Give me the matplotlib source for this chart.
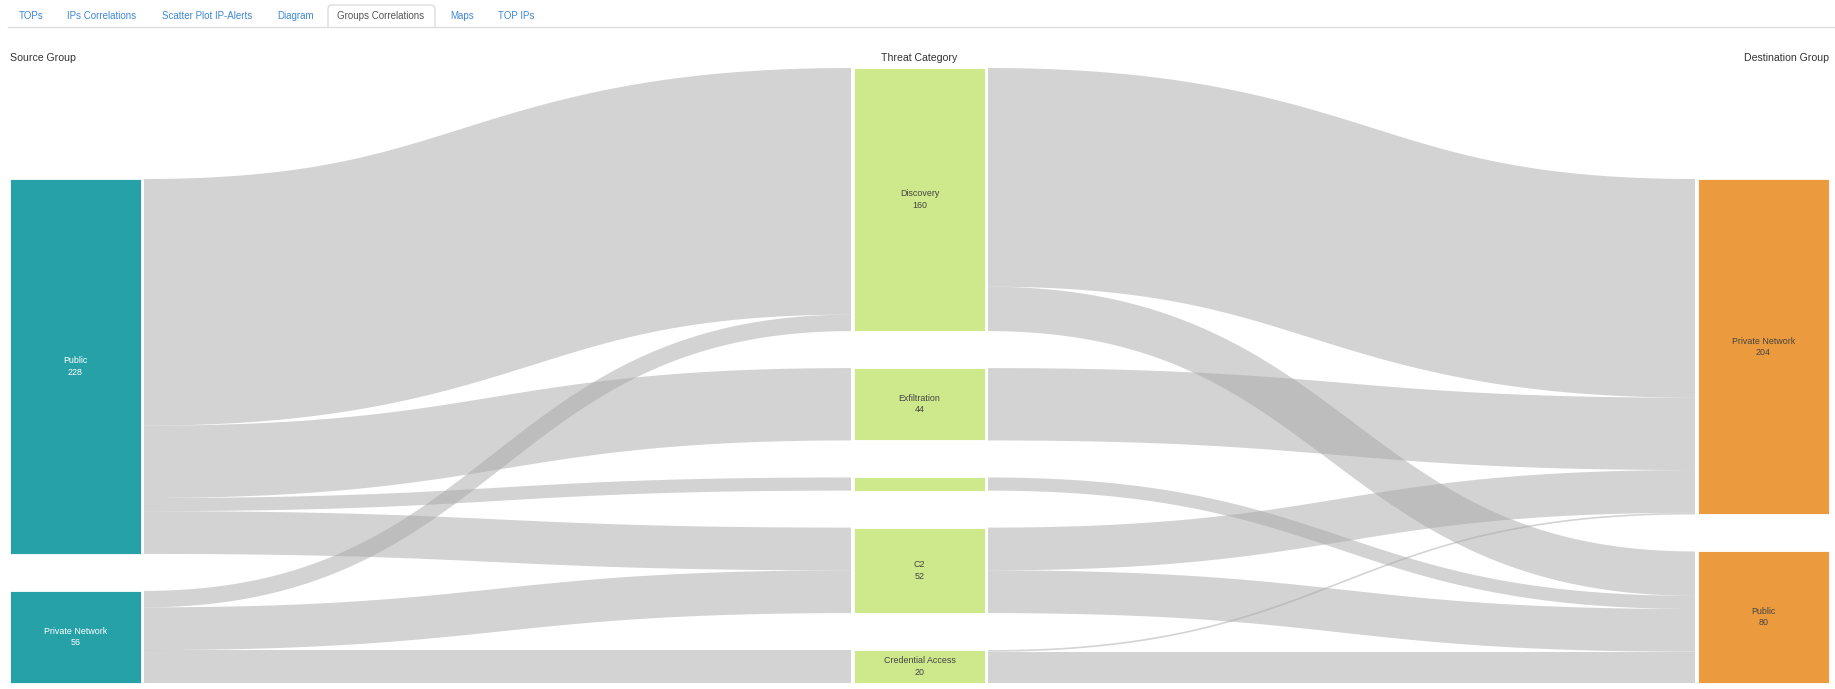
import numpy as np
import matplotlib.pyplot as plt
from matplotlib.patches import Rectangle, Polygon, FancyBboxPatch

plt.rcParams['font.family'] = ['Liberation Sans', 'DejaVu Sans']

# ---- data ----
source_names = ["Public", "Private Network"]
threat_names = ["Discovery", "Exfiltration", "Lateral Movement", "C2", "Credential Access"]
dest_names = ["Private Network", "Public"]

# source group -> threat category
left_src = [0, 0, 0, 0, 1, 1, 1]
left_tgt = [0, 1, 2, 3, 0, 3, 4]
left_val = [150, 44, 8, 26, 10, 26, 20]

# threat category -> destination group
right_src = [0, 0, 1, 2, 3, 3, 4, 4]
right_tgt = [0, 1, 0, 1, 0, 1, 0, 1]
right_val = [133, 27, 44, 8, 26, 26, 1, 19]

tabs = ["TOPs", "IPs Correlations", "Scatter Plot IP-Alerts", "Diagram",
        "Groups Correlations", "Maps", "TOP IPs"]
active_tab = "Groups Correlations"
column_titles = ["Source Group", "Threat Category", "Destination Group"]

# ---- layout (pixels) ----
W, H = 1835, 689
col_x = [10, 854, 1698]
node_w = 131
link_pad = 3
top, bottom = 68, 683
gap = 37
colors = ["#26a1a8", "#cde98b", "#ec9a3e"]
label_colors = ["white", "#444444", "#444444"]

fig = plt.figure(figsize=(W / 100, H / 100), dpi=100)
ax = fig.add_axes([0, 0, 1, 1])
ax.set_xlim(0, W)
ax.set_ylim(H, 0)
ax.axis("off")

# node values
src_vals = np.zeros(len(source_names))
thr_in = np.zeros(len(threat_names))
thr_out = np.zeros(len(threat_names))
dst_vals = np.zeros(len(dest_names))
for s, t, v in zip(left_src, left_tgt, left_val):
    src_vals[s] += v
    thr_in[t] += v
for s, t, v in zip(right_src, right_tgt, right_val):
    thr_out[s] += v
    dst_vals[t] += v
thr_vals = np.maximum(thr_in, thr_out)
columns = [src_vals, thr_vals, dst_vals]
names = [source_names, threat_names, dest_names]

ky = min((bottom - top - gap * (len(c) - 1)) / c.sum() for c in columns)

node_y = []
for vals in columns:
    h = vals * ky
    y = bottom - (h.sum() + gap * (len(vals) - 1))
    ys = []
    for hh in h:
        ys.append(y)
        y += hh + gap
    node_y.append(np.array(ys))


def band(x0, y0, x1, y1, w, n=120):
    # thick stroke along a horizontal cubic bezier (like d3 sankeyLinkHorizontal)
    t = np.linspace(0, 1, n)[:, None]
    xm = (x0 + x1) / 2
    P0, P1, P2, P3 = (np.array(p, float) for p in [(x0, y0), (xm, y0), (xm, y1), (x1, y1)])
    B = (1 - t) ** 3 * P0 + 3 * (1 - t) ** 2 * t * P1 + 3 * (1 - t) * t ** 2 * P2 + t ** 3 * P3
    D = 3 * (1 - t) ** 2 * (P1 - P0) + 6 * (1 - t) * t * (P2 - P1) + 3 * t ** 2 * (P3 - P2)
    D = D / np.linalg.norm(D, axis=1, keepdims=True)
    N = np.column_stack([-D[:, 1], D[:, 0]])
    return np.vstack([B + N * w / 2, (B - N * w / 2)[::-1]])


def draw_links(ci, srcs, tgts, vals):
    sy = node_y[ci].copy()
    ty = node_y[ci + 1].copy()
    # source side ordered by target position, target side by source position
    order_s = sorted(range(len(vals)), key=lambda i: (srcs[i], node_y[ci + 1][tgts[i]]))
    order_t = sorted(range(len(vals)), key=lambda i: (tgts[i], node_y[ci][srcs[i]]))
    y_start, y_end = {}, {}
    for i in order_s:
        y_start[i] = sy[srcs[i]]
        sy[srcs[i]] += vals[i] * ky
    for i in order_t:
        y_end[i] = ty[tgts[i]]
        ty[tgts[i]] += vals[i] * ky
    x0 = col_x[ci] + node_w + link_pad
    x1 = col_x[ci + 1] - link_pad
    for i in range(len(vals)):
        w = vals[i] * ky
        pts = band(x0, y_start[i] + w / 2, x1, y_end[i] + w / 2, w)
        ax.add_patch(Polygon(pts, closed=True, facecolor=(0.66, 0.66, 0.66),
                             alpha=0.5, edgecolor="none", zorder=1))


draw_links(0, left_src, left_tgt, left_val)
draw_links(1, right_src, right_tgt, right_val)

# nodes
for ci in range(3):
    for j, v in enumerate(columns[ci]):
        h = v * ky
        y0 = node_y[ci][j]
        ax.add_patch(Rectangle((col_x[ci], y0), node_w, h, facecolor=colors[ci],
                               edgecolor="white", linewidth=0.6, zorder=2))
        if h > 20:
            ax.text(col_x[ci] + node_w / 2, y0 + h / 2, f"{names[ci][j]}\n{int(v)}",
                    ha="center", va="center", fontsize=6.4, color=label_colors[ci],
                    linespacing=1.35, zorder=3)

# column titles
ax.text(col_x[0], 58, column_titles[0], ha="left", va="center", fontsize=7.6, color="#333333")
ax.text(col_x[1] + node_w / 2, 58, column_titles[1], ha="center", va="center",
        fontsize=7.6, color="#333333")
ax.text(col_x[2] + node_w, 58, column_titles[2], ha="right", va="center",
        fontsize=7.6, color="#333333")

# tab bar
tab_cx = [31, 102, 207, 296, 381, 462, 516]
for name, cx in zip(tabs, tab_cx):
    if name == active_tab:
        ax.add_patch(FancyBboxPatch((328, 5), 107, 30, boxstyle="round,pad=0,rounding_size=4",
                                    facecolor="white", edgecolor="#dddddd", lw=1, zorder=1))
        ax.text(cx, 16, name, ha="center", va="center", fontsize=7.0, color="#555555", zorder=3)
    else:
        ax.text(cx, 16, name, ha="center", va="center", fontsize=7.0, color="#3f88d4")
# hide the lower part of the active tab box below the bar line
ax.add_patch(Rectangle((320, 27.5), 125, 12, facecolor="white", edgecolor="none", zorder=2))
ax.plot([8, W], [27, 27], color="#dddddd", lw=1, zorder=2.5)

fig.savefig("out.png", dpi=100, facecolor="white")
